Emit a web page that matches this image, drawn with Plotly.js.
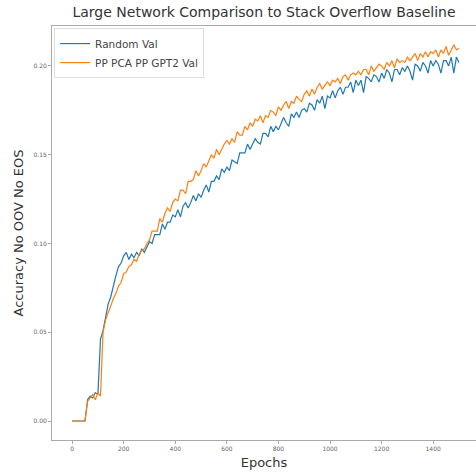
<!DOCTYPE html>
<html>
<head>
<meta charset="utf-8">
<script src="https://cdn.plot.ly/plotly-3.0.1.min.js"></script>
<style>html,body{margin:0;padding:0;background:#fff;}#chart{width:476px;height:473px;}</style>
</head>
<body>
<div id="chart"></div>
<script>
// Epochs sampled every 10 (0..1500)
const epochStep = 10;
const randomVal = [
  0, 0, 0, 0, 0, 0, 0.012, 0.014, 0.013, 0.016,
  0.015, 0.046, 0.051, 0.058, 0.066, 0.070, 0.077, 0.082, 0.087, 0.089,
  0.093, 0.095, 0.091, 0.094, 0.092, 0.095, 0.093, 0.097, 0.095, 0.098,
  0.101, 0.100, 0.105, 0.105, 0.105, 0.111, 0.108, 0.112, 0.112, 0.116,
  0.115, 0.119, 0.115, 0.121, 0.123, 0.120, 0.123, 0.127, 0.124, 0.128,
  0.126, 0.130, 0.133, 0.129, 0.135, 0.135, 0.138, 0.136, 0.142, 0.140,
  0.143, 0.141, 0.147, 0.146, 0.145, 0.151, 0.151, 0.151, 0.156, 0.153,
  0.156, 0.159, 0.157, 0.156, 0.162, 0.162, 0.160, 0.166, 0.163, 0.166,
  0.164, 0.168, 0.171, 0.168, 0.166, 0.173, 0.171, 0.174, 0.171, 0.175,
  0.176, 0.174, 0.179, 0.178, 0.175, 0.181, 0.179, 0.183, 0.176, 0.183,
  0.182, 0.186, 0.182, 0.186, 0.188, 0.184, 0.188, 0.188, 0.191, 0.185,
  0.192, 0.189, 0.192, 0.185, 0.194, 0.193, 0.191, 0.195, 0.194, 0.191,
  0.196, 0.193, 0.198, 0.196, 0.191, 0.198, 0.198, 0.195, 0.199, 0.197,
  0.200, 0.197, 0.192, 0.201, 0.200, 0.197, 0.202, 0.200, 0.196, 0.203,
  0.200, 0.203, 0.201, 0.196, 0.203, 0.203, 0.200, 0.205, 0.196, 0.205,
  0.202
];
const ppVal = [
  0, 0, 0, 0, 0, 0, 0.011, 0.013, 0.015, 0.012,
  0.016, 0.014, 0.050, 0.057, 0.061, 0.066, 0.069, 0.072, 0.076, 0.078,
  0.083, 0.084, 0.087, 0.088, 0.091, 0.090, 0.094, 0.096, 0.097, 0.100,
  0.102, 0.107, 0.107, 0.107, 0.114, 0.112, 0.117, 0.120, 0.118, 0.123,
  0.125, 0.124, 0.130, 0.130, 0.128, 0.135, 0.135, 0.136, 0.141, 0.138,
  0.141, 0.145, 0.143, 0.147, 0.150, 0.148, 0.153, 0.150, 0.153, 0.156,
  0.158, 0.156, 0.159, 0.157, 0.163, 0.161, 0.161, 0.166, 0.164, 0.168,
  0.166, 0.170, 0.169, 0.172, 0.168, 0.172, 0.171, 0.175, 0.174, 0.172,
  0.177, 0.175, 0.178, 0.180, 0.176, 0.180, 0.179, 0.183, 0.181, 0.180,
  0.184, 0.186, 0.183, 0.187, 0.184, 0.188, 0.190, 0.187, 0.189, 0.191,
  0.189, 0.192, 0.191, 0.193, 0.190, 0.194, 0.195, 0.192, 0.195, 0.196,
  0.195, 0.197, 0.195, 0.198, 0.198, 0.195, 0.200, 0.197, 0.199, 0.201,
  0.200, 0.198, 0.202, 0.200, 0.203, 0.199, 0.204, 0.202, 0.203, 0.202,
  0.205, 0.203, 0.205, 0.207, 0.203, 0.207, 0.205, 0.208, 0.205, 0.208,
  0.207, 0.209, 0.205, 0.209, 0.207, 0.211, 0.206, 0.209, 0.212, 0.209,
  0.210
];
const seriesNames = ["Random Val", "PP PCA PP GPT2 Val"];
const xTicks = [0, 200, 400, 600, 800, 1000, 1200, 1400];
const yTicks = [0.00, 0.05, 0.10, 0.15, 0.20];

const epochsA = randomVal.map((_, i) => i * epochStep);
const epochsB = ppVal.map((_, i) => i * epochStep);

const traces = [
  {x: epochsA, y: randomVal, name: seriesNames[0], type: 'scatter', mode: 'lines',
   line: {color: '#1f77b4', width: 1.2}},
  {x: epochsB, y: ppVal, name: seriesNames[1], type: 'scatter', mode: 'lines',
   line: {color: '#ff7f0e', width: 1.2}}
];

const axisCommon = {
  showgrid: false, zeroline: false, showline: true, mirror: true,
  linecolor: '#aaa', linewidth: 1, ticks: 'outside', ticklen: 3,
  tickcolor: '#aaa', tickfont: {family: 'DejaVu Sans', size: 6, color: '#666'}
};

const layout = {
  width: 476, height: 473,
  margin: {l: 52, r: 0, t: 26, b: 33},
  paper_bgcolor: '#fff', plot_bgcolor: '#fff',
  font: {family: 'DejaVu Sans', color: '#333'},
  title: {text: 'Large Network Comparison to Stack Overflow Baseline',
          font: {family: 'DejaVu Sans', size: 14, color: '#333'},
          x: 0.5, xref: 'paper', y: 0.985, yref: 'container', yanchor: 'top'},
  xaxis: Object.assign({}, axisCommon, {
    range: [-78, 1566], tickvals: xTicks,
    title: {text: 'Epochs', font: {family: 'DejaVu Sans', size: 13, color: '#333'}, standoff: 6}
  }),
  yaxis: Object.assign({}, axisCommon, {
    range: [-0.0107, 0.2225], tickvals: yTicks, tickformat: '.2f',
    title: {text: 'Accuracy No OOV No EOS', font: {family: 'DejaVu Sans', size: 13, color: '#333'}, standoff: 6}
  }),
  showlegend: true,
  legend: {x: 0.005, y: 0.995, xanchor: 'left', yanchor: 'top',
           bgcolor: '#fff', bordercolor: '#ddd', borderwidth: 1,
           font: {family: 'DejaVu Sans', size: 10.5, color: '#444'},
           tracegroupgap: 0, itemwidth: 30}
};

Plotly.newPlot('chart', traces, layout, {displayModeBar: false, staticPlot: true});
</script>
</body>
</html>
